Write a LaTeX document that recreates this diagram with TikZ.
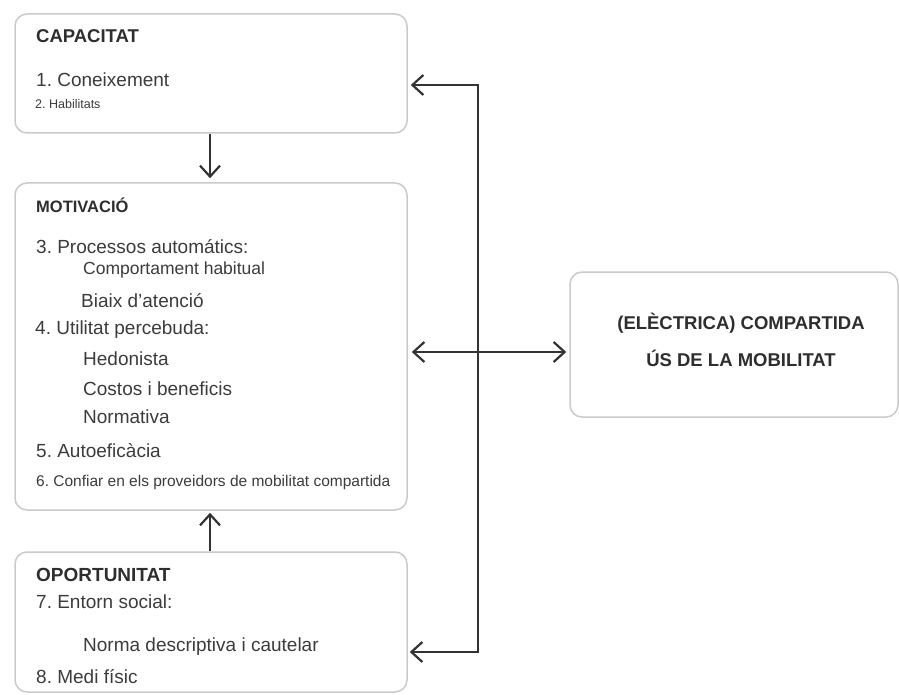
\documentclass[tikz,border=0pt]{standalone}
\usepackage{fontspec}
\setmainfont{Liberation Sans}
\usetikzlibrary{arrows.meta}
\definecolor{boxline}{HTML}{CACACA}
\definecolor{txt}{HTML}{3C3C3C}
\definecolor{head}{HTML}{2E2E2E}
\definecolor{arrowc}{HTML}{333333}
\tikzset{
  box/.style={draw=boxline, line width=1.5pt, rounded corners=12pt, fill=white, inner sep=0pt},
  line/.style={anchor=west, inner sep=0pt, text=txt, font=\fontsize{19}{22}\selectfont},
  sub/.style={line, font=\fontsize{17.5}{21}\selectfont},
  small/.style={line, font=\fontsize{15.5}{18}\selectfont},
  tiny/.style={line, font=\fontsize{12.5}{15}\selectfont},
  heading/.style={anchor=west, inner sep=0pt, text=head, font=\bfseries\fontsize{18.5}{22}\selectfont},
  center/.style={inner sep=0pt, text=head, font=\bfseries\fontsize{18.5}{22}\selectfont},
  conn/.style={draw=arrowc, line width=2.2pt, {Straight Barb[length=11pt,width=20pt]}-{Straight Barb[length=11pt,width=20pt]}},
  oneway/.style={draw=arrowc, line width=2.2pt, -{Straight Barb[length=11pt,width=20pt]}}
}
\begin{document}
\frenchspacing
\begin{tikzpicture}[x=1pt, y=-1pt]
\useasboundingbox (0,0) rectangle (899,695);
% boxes
\node[box, minimum width=392pt, minimum height=119pt] (cap) at (211,73.5) {};
\node[box, minimum width=392pt, minimum height=327pt] (mot) at (211,346.5) {};
\node[box, minimum width=392pt, minimum height=140pt] (opo) at (211,622) {};
\node[box, minimum width=328pt, minimum height=145pt] (rb) at (734,344.5) {};
% CAPACITAT
\node[heading] (t1) at (36,36) {CAPACITAT};
\node[line] (t2) at (36,80) {1. Coneixement};
\node[tiny] (t3) at (35,104) {2. Habilitats};
% MOTIVACIÓ
\node[heading, font=\bfseries\fontsize{16.5}{19}\selectfont] (m0) at (36,205) {MOTIVACIÓ};
\node[line] (m1) at (36,247) {3. Processos automátics:};
\node[sub] (m2) at (83,270) {Comportament habitual};
\node[line] (m3) at (81,301) {Biaix d'atenció};
\node[line] (m4) at (35,330) {4. Utilitat percebuda:};
\node[line] (m5) at (83,359) {Hedonista};
\node[line] (m6) at (83,389) {Costos i beneficis};
\node[line] (m7) at (83,417) {Normativa};
\node[line] (m8) at (36,451) {5. Autoeficàcia};
\node[small] (m9) at (36,482) {6. Confiar en els proveidors de mobilitat compartida};
% OPORTUNITAT
\node[heading, font=\bfseries\fontsize{19}{22}\selectfont] (o0) at (36,575) {OPORTUNITAT};
\node[line] (o1) at (36,602) {7. Entorn social:};
\node[line] (o2) at (83,647) {Norma descriptiva i cautelar};
\node[line] (o3) at (36,677) {8. Medi físic};
% right box
\node[center] (r1) at (741,323) {(ELÈCTRICA) COMPARTIDA};
\node[center] (r2) at (741,358) {ÚS DE LA MOBILITAT};
% connectors
\coordinate (jt) at (478,85);
\coordinate (jm) at (478,352);
\coordinate (jb) at (478,652);
\draw[oneway, shorten >=4pt] (cap.south -| 210,0) -- (mot.north -| 210,0);
\draw[oneway, shorten >=2pt] (opo.north -| 210,0) -- (mot.south -| 210,0);
\draw[conn, shorten <=3pt, shorten >=2pt] (cap.east |- jt) -- (jt) -- (jb) -- (opo.east |- jb);
\draw[conn, shorten <=4pt, shorten >=3pt] (mot.east |- jm) -- (rb.west |- jm);
\end{tikzpicture}
\end{document}
